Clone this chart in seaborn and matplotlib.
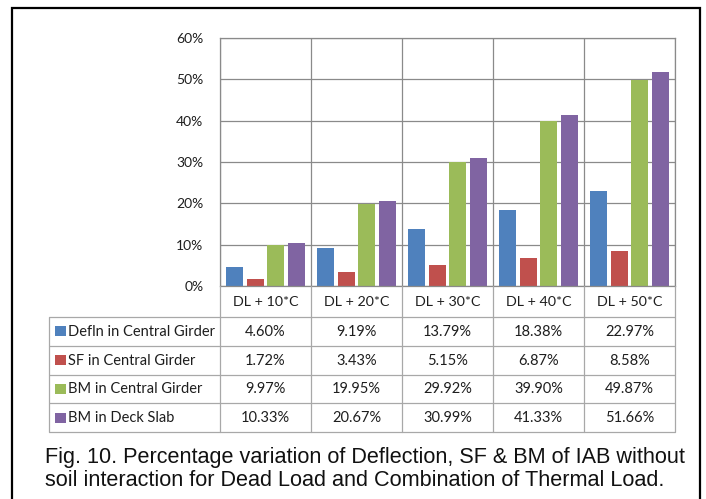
import numpy as np
import pandas as pd
import matplotlib
matplotlib.use("Agg")
import matplotlib.pyplot as plt
import matplotlib.transforms as mtransforms
from matplotlib.patches import Rectangle
from matplotlib.ticker import FuncFormatter, MultipleLocator
import seaborn as sns

# ---- data (percentage variation) ----
categories = ["DL + 10*C", "DL + 20*C", "DL + 30*C", "DL + 40*C", "DL + 50*C"]
series_names = ["Defln in Central Girder", "SF in Central Girder",
                "BM in Central Girder", "BM in Deck Slab"]
defln_girder = [4.60, 9.19, 13.79, 18.38, 22.97]
sf_girder = [1.72, 3.43, 5.15, 6.87, 8.58]
bm_girder = [9.97, 19.95, 29.92, 39.90, 49.87]
bm_slab = [10.33, 20.67, 30.99, 41.33, 51.66]
yticks = [0, 10, 20, 30, 40, 50, 60]
caption_lines = ["Fig. 10. Percentage variation of Deflection, SF & BM of IAB without",
                 "soil interaction for Dead Load and Combination of Thermal Load."]

series_values = [defln_girder, sf_girder, bm_girder, bm_slab]
colors = ["#4F81BD", "#C0504D", "#9BBB59", "#8064A2"]

df = pd.DataFrame({
    "case": np.repeat([categories], len(series_names), axis=0).ravel(),
    "series": np.repeat(series_names, len(categories)),
    "value": np.concatenate(series_values) / 100.0,
})

sns.set_theme(style="white")
plt.rcParams["font.family"] = ["Lato", "DejaVu Sans"]

W, H = 706, 499
fig = plt.figure(figsize=(W / 100, H / 100), dpi=100)
fig.patch.set_facecolor("white")


def fx(x):
    return x / W


def fy(y):
    return 1 - y / H


# plot area
left, right, top, bottom = 220, 675, 38, 286
ax = fig.add_axes([fx(left), fy(bottom), fx(right - left), (bottom - top) / H])

sns.barplot(data=df, x="case", y="value", hue="series", palette=colors,
            hue_order=series_names, order=categories,
            width=0.92, gap=0.19, saturation=1, legend=False, ax=ax,
            edgecolor="none", linewidth=0)

grid_col = "#8A8A8A"
ax.set_xlim(-0.5, len(categories) - 0.5)
ax.set_ylim(0, 0.6)
ax.set_yticks([t / 100 for t in yticks])
ax.yaxis.set_major_formatter(FuncFormatter(lambda v, p: f"{v * 100:.0f}%"))
ax.set_xticks([])
ax.xaxis.set_minor_locator(MultipleLocator(1, offset=0.5))
ax.grid(axis="y", color=grid_col, linewidth=0.9)
ax.grid(axis="x", which="minor", color=grid_col, linewidth=0.9)
ax.set_axisbelow(True)
ax.tick_params(axis="y", length=0, pad=12, labelsize=10, labelcolor="#1E1E1E")
ax.tick_params(axis="x", which="both", length=0)
ax.set_xlabel("")
ax.set_ylabel("")
for s in ax.spines.values():
    s.set_color(grid_col)
    s.set_linewidth(0.9)

# data table beneath the chart
ov = fig.add_axes([0, 0, 1, 1])
ov.set_xlim(0, W)
ov.set_ylim(H, 0)
ov.axis("off")
ov.patch.set_alpha(0)
blend = mtransforms.blended_transform_factory(ax.transData, ov.transData)

tab_col = "#A8A8A8"
tab_left = 49
header_bottom = 317
row_h = 28.75
row_edges = [header_bottom + i * row_h for i in range(len(series_names) + 1)]
bounds = np.arange(len(categories) + 1) - 0.5

for yb in row_edges:
    ov.plot([tab_left, right], [yb, yb], color=tab_col, lw=0.9, solid_capstyle="butt")
ov.plot([tab_left, tab_left], [header_bottom, row_edges[-1]], color=tab_col, lw=0.9)
for b in bounds:
    ov.plot([b, b], [bottom, row_edges[-1]], color=tab_col, lw=0.9, transform=blend)

for i, cat in enumerate(categories):
    ov.text(i, (bottom + header_bottom) / 2 + 1, cat, transform=blend,
            ha="center", va="center", fontsize=10.3, color="#1E1E1E")

for r, (name, vals, c) in enumerate(zip(series_names, series_values, colors)):
    yc = (row_edges[r] + row_edges[r + 1]) / 2
    ov.add_patch(Rectangle((55, yc - 5), 11, 10, facecolor=c, edgecolor="none"))
    ov.text(68, yc + 0.5, name, ha="left", va="center", fontsize=10.5, color="#1E1E1E")
    for i, v in enumerate(vals):
        ov.text(i, yc + 0.5, f"{v:.2f}%", transform=blend, ha="center", va="center",
                fontsize=10.5, color="#1E1E1E")

# caption, two lines
for k, line in enumerate(caption_lines):
    ov.text(45, 463 + 23 * k, line, ha="left", va="baseline", fontsize=15.6,
            family=["Liberation Sans", "DejaVu Sans"], color="#111111")

# outer frame
fig.add_artist(Rectangle((fx(11.5), fy(520)), fx(700 - 11.5), (520 - 8) / H,
                         transform=fig.transFigure, fill=False,
                         edgecolor="black", linewidth=1.6, clip_on=False))

fig.savefig("out.png", dpi=100, facecolor="white")
